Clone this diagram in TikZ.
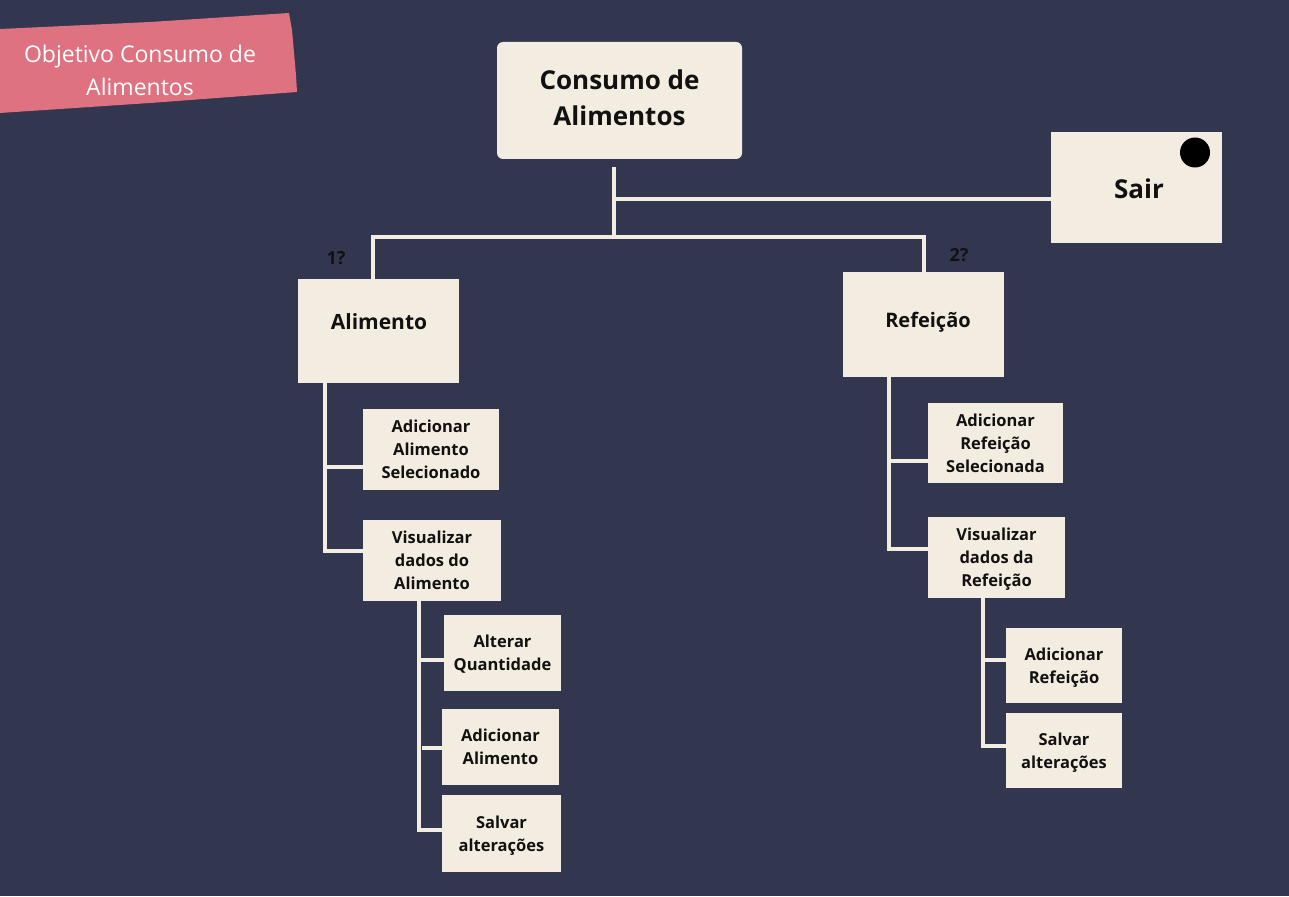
\documentclass[tikz,border=0pt]{standalone}
\usepackage{fontspec}
\setmainfont{Open Sans}
\definecolor{bg}{RGB}{50,54,79}
\definecolor{cream}{RGB}{243,237,225}
\definecolor{pinktag}{RGB}{222,114,128}
\definecolor{ink}{RGB}{17,17,17}
\tikzset{
  box/.style={fill=cream, draw=none, inner sep=0pt, text=ink, font=\bfseries, align=center},
  small/.style={box, font=\fontsize{16.5}{23}\selectfont\bfseries, text depth=-3pt},
  mid/.style={box, font=\fontsize{21}{26}\selectfont\bfseries},
  big/.style={box, font=\fontsize{26}{36}\selectfont\bfseries},
  conn/.style={draw=cream, line width=3.5pt},
  qlabel/.style={text=ink, font=\fontsize{18}{20}\selectfont\bfseries, inner sep=0pt}
}
\begin{document}
\begin{tikzpicture}[x=1pt,y=-1pt]
\fill[bg] (0,0) rectangle (1289,896);
\useasboundingbox (0,0) rectangle (1289,896);

% title tag
\fill[pinktag] (0,29) -- (150,22) -- (289,13) -- (292,30) -- (296,75) -- (297,92) -- (150,103) -- (0,113) -- cycle;
\node[text=white, font=\fontsize{23}{33}\selectfont, align=center, inner sep=0pt] (tag) at (140,70) {Objetivo Consumo de\\Alimentos};

% main nodes
\node[big, rounded corners=6pt, minimum width=245pt, minimum height=117pt] (main) at (619.5,100.5) {};
\node[text=ink, font=\fontsize{26}{36}\selectfont\bfseries, align=center, inner sep=0pt] (maint) at (619.5,98) {Consumo de\\Alimentos};
\node[big, minimum width=171pt, minimum height=111pt] (sair) at (1136.5,187.5) {};
\node[text=ink, font=\fontsize{26}{30}\selectfont\bfseries, inner sep=0pt] (sairt) at (1139,189) {Sair};
\node[circle, fill=black, minimum size=30pt, inner sep=0pt] (dot) at (1195,152.5) {};

\node[mid, minimum width=161pt, minimum height=104pt] (ali) at (378.5,331) {};
\node[text=ink, font=\fontsize{21}{26}\selectfont\bfseries, inner sep=0pt] (alit) at (379,322) {Alimento};
\node[mid, minimum width=161pt, minimum height=105pt] (ref) at (923.5,324.5) {};
\node[text=ink, font=\fontsize{20}{26}\selectfont\bfseries, inner sep=0pt] (reft) at (928,322) {Refeição};

\node[qlabel] (q1) at (336,258) {1?};
\node[qlabel] (q2) at (959,255) {2?};

% left subtree
\node[small, minimum width=136pt, minimum height=81pt] (a1) at (431,449.5) {Adicionar\\Alimento\\Selecionado};
\node[small, minimum width=138pt, minimum height=81pt] (a2) at (432,560.5) {Visualizar\\dados do\\Alimento};
\node[small, minimum width=117pt, minimum height=76pt] (a3) at (502.5,653) {Alterar\\Quantidade};
\node[small, minimum width=117pt, minimum height=76pt] (a4) at (500.5,747) {Adicionar\\Alimento};
\node[small, minimum width=119pt, minimum height=77pt] (a5) at (501.5,833.5) {Salvar\\alterações};

% right subtree
\node[small, minimum width=135pt, minimum height=80pt] (r1) at (995.5,443) {Adicionar\\Refeição\\Selecionada};
\node[small, minimum width=137pt, minimum height=81pt] (r2) at (996.5,557.5) {Visualizar\\dados da\\Refeição};
\node[small, minimum width=116pt, minimum height=75pt] (r3) at (1064,665.5) {Adicionar\\Refeição};
\node[small, minimum width=116pt, minimum height=75pt] (r4) at (1064,750.5) {Salvar\\alterações};

% connectors
\coordinate (t0) at (614,167);
\coordinate (t1) at (614,237);
\coordinate (s0) at (614,199);
\coordinate (bl) at (373,237);
\coordinate (br) at (924,237);
\draw[conn] (t0) -- (t1);
\draw[conn] (s0) -- (s0 -| sair.west);
\draw[conn] (bl |- ali.north) -- (bl) -- (br) -- (br |- ref.north);

\coordinate (lv) at (325,551);
\coordinate (lh) at (325,467);
\draw[conn] (lv |- ali.south) -- (lv) -- (lv -| a2.west);
\draw[conn] (lh) -- (lh -| a1.west);

\coordinate (lv2) at (419,830);
\coordinate (lh2) at (419,660);
\coordinate (lh3) at (422,748);
\draw[conn] (lv2 |- a2.south) -- (lv2) -- (lv2 -| a5.west);
\draw[conn] (lh2) -- (lh2 -| a3.west);
\draw[conn] (lh3) -- (lh3 -| a4.west);

\coordinate (rv) at (889,549);
\coordinate (rh) at (889,461);
\draw[conn] (rv |- ref.south) -- (rv) -- (rv -| r2.west);
\draw[conn] (rh) -- (rh -| r1.west);

\coordinate (rv2) at (983,746);
\coordinate (rh2) at (983,660);
\draw[conn] (rv2 |- r2.south) -- (rv2) -- (rv2 -| r4.west);
\draw[conn] (rh2) -- (rh2 -| r3.west);
\end{tikzpicture}
\end{document}
